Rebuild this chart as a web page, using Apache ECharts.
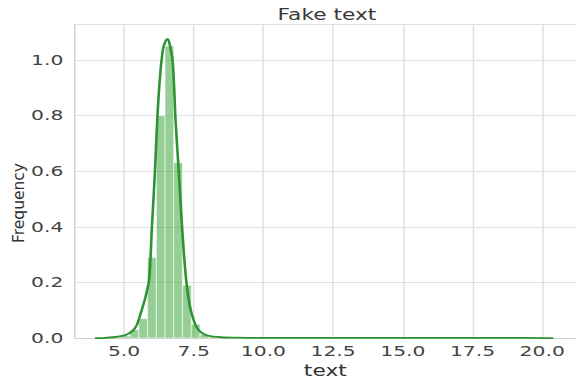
<!DOCTYPE html>
<html>
<head>
<meta charset="utf-8">
<script src="https://cdn.jsdelivr.net/npm/echarts@6/dist/echarts.min.js"></script>
<style>
  html, body { margin: 0; padding: 0; background: #ffffff; overflow: hidden; }
  #wrap { position: relative; width: 576px; height: 383px; overflow: hidden; }
  #main { position: absolute; left: 0; top: 0; width: 397.24px; height: 383px;
          transform: scaleX(1.45); transform-origin: 0 0; }
  #ylab { position: absolute; left: 0; top: 0; width: 576px; height: 383px; pointer-events: none; }
</style>
</head>
<body>
<div id="wrap">
  <div id="main"></div>
  <div id="ylab"></div>
</div>
<script>
// ---- data ----
const titleText = 'Fake text';
const xName = 'text';
const yName = 'Frequency';

const xTickValues = [5.0, 7.5, 10.0, 12.5, 15.0, 17.5, 20.0];
const xTickLabels = ['5.0', '7.5', '10.0', '12.5', '15.0', '17.5', '20.0'];
const yTickValues = [0.0, 0.2, 0.4, 0.6, 0.8, 1.0];
const yTickLabels = ['0.0', '0.2', '0.4', '0.6', '0.8', '1.0'];

// histogram (density) bins: left edge and height
const binWidth = 0.313;
const binLeft   = [4.59, 4.90, 5.215, 5.53, 5.84, 6.16, 6.47, 6.78, 7.10, 7.41, 7.72, 8.03, 8.35, 18.05, 19.93];
const binHeight = [0.004, 0.008, 0.03, 0.07, 0.29, 0.80, 1.05, 0.63, 0.19, 0.05, 0.012, 0.004, 0.002, 0.002, 0.002];

// KDE curve
const kdeX = [3.96, 4.3, 4.6, 4.9, 5.1, 5.3, 5.45, 5.6, 5.75, 5.9, 6.0, 6.1, 6.2, 6.3, 6.4, 6.5, 6.57, 6.65, 6.75, 6.85, 6.95, 7.05, 7.15, 7.25, 7.35, 7.45, 7.6, 7.8, 8.0, 8.5, 9.0, 10.0, 12.0, 14.0, 16.0, 18.0, 19.5, 20.4];
const kdeY = [0.0, 0.001, 0.003, 0.007, 0.013, 0.025, 0.045, 0.09, 0.14, 0.21, 0.40, 0.58, 0.80, 0.95, 1.04, 1.07, 1.075, 1.05, 0.99, 0.78, 0.62, 0.45, 0.30, 0.19, 0.12, 0.08, 0.04, 0.018, 0.009, 0.003, 0.0015, 0.0008, 0.0005, 0.0005, 0.0005, 0.0008, 0.001, 0.0];

const xMin = 3.24, xMax = 21.2;
const yMin = 0, yMax = 1.129;

// ---- chart ----
const histData = binLeft.map((x, i) => [x, binHeight[i]]);
const kdeData = kdeX.map((x, i) => [x, kdeY[i]]);

const chart = echarts.init(document.getElementById('main'), null, { renderer: 'svg' });
const FONT = 'DejaVu Sans';

chart.setOption({
  animation: false,
  backgroundColor: '#ffffff',
  title: {
    text: titleText,
    left: 225.5,
    top: 7,
    textAlign: 'center',
    padding: 0,
    textStyle: { fontFamily: FONT, fontSize: 15, fontWeight: 'normal', color: '#3a3a3a' }
  },
  grid: { left: 51.7, right: 0, top: 24, bottom: 34, containLabel: false },
  xAxis: {
    type: 'value',
    min: xMin,
    max: xMax,
    name: xName,
    nameLocation: 'middle',
    nameGap: 15,
    nameTextStyle: { fontFamily: FONT, fontSize: 15, color: '#333' },
    axisLine: { show: true, lineStyle: { color: '#d0d0d0', width: 1 } },
    axisTick: { show: false, customValues: xTickValues },
    axisLabel: {
      customValues: xTickValues,
      fontFamily: FONT, fontSize: 14, color: '#444', margin: 6,
      formatter: v => {
        const i = xTickValues.findIndex(t => Math.abs(t - v) < 1e-6);
        return i >= 0 ? xTickLabels[i] : '';
      }
    },
    splitLine: { show: true, lineStyle: { color: '#e0e0e0', width: 1 } }
  },
  yAxis: {
    type: 'value',
    min: yMin,
    max: yMax,
    interval: 0.2,
    axisLine: { show: true, lineStyle: { color: '#d0d0d0', width: 1 } },
    axisTick: { show: false },
    axisLabel: {
      fontFamily: FONT, fontSize: 14, color: '#444', margin: 8,
      formatter: v => {
        const i = yTickValues.findIndex(t => Math.abs(t - v) < 1e-6);
        return i >= 0 ? yTickLabels[i] : '';
      }
    },
    splitLine: { show: true, lineStyle: { color: '#e0e0e0', width: 1 } }
  },
  series: [
    {
      type: 'custom',
      data: histData,
      clip: true,
      renderItem: (params, api) => {
        const x0 = api.value(0), h = api.value(1);
        const p0 = api.coord([x0, h]);
        const p1 = api.coord([x0 + binWidth, 0]);
        return {
          type: 'rect',
          shape: { x: p0[0], y: p0[1], width: p1[0] - p0[0], height: p1[1] - p0[1] },
          style: { fill: 'rgba(44,160,44,0.5)', stroke: 'rgba(255,255,255,0.8)', lineWidth: 0.6 }
        };
      },
      z: 2
    },
    {
      type: 'line',
      data: kdeData,
      showSymbol: false,
      symbol: 'none',
      smooth: 0.3,
      lineStyle: { color: '#2f9233', width: 1.8 },
      z: 3
    }
  ]
});

// y-axis title drawn unstretched, as in the reference
const ylab = echarts.init(document.getElementById('ylab'), null, { renderer: 'svg' });
ylab.setOption({
  animation: false,
  graphic: [{
    type: 'text',
    x: 19,
    y: 203,
    rotation: Math.PI / 2,
    style: {
      text: yName,
      fontFamily: FONT,
      fontSize: 15.5,
      fill: '#333',
      align: 'center',
      verticalAlign: 'middle'
    }
  }]
});
</script>
</body>
</html>
